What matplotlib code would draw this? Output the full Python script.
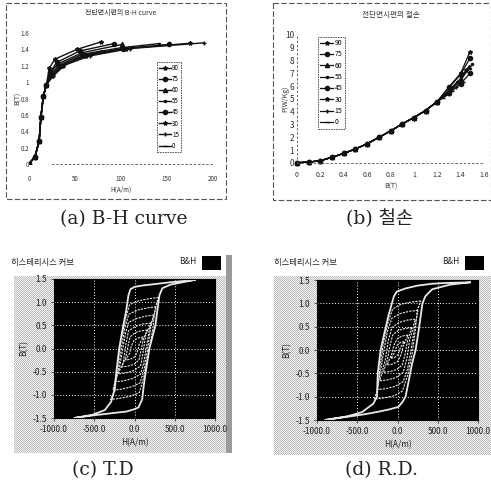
import matplotlib
matplotlib.use('Agg')
import matplotlib.pyplot as plt
import numpy as np
from matplotlib.patches import Rectangle

plt.rcParams['font.family'] = ['Noto Sans CJK KR', 'DejaVu Sans']
W, H = 491, 482

labels = ['90', '75', '60', '55', '45', '30', '15', '0']
markers = ['*', 'o', '^', '.', 'o', '*', '+', '_']

bh_low_h = [0, 6.5, 11, 13, 15.6, 19]
bh_low_b = [0, 0.09, 0.28, 0.58, 0.83, 0.97]
bh_h = [
    [22, 28, 52, 78],
    [23, 30, 55, 92],
    [23, 31, 58, 101],
    [24, 33, 58, 100, 141],
    [25, 34, 60, 102, 152],
    [25, 35, 62, 105, 175],
    [26, 37, 66, 110, 190],
    [26, 37, 52, 79],
]
bh_b = [
    [1.17, 1.28, 1.40, 1.49],
    [1.12, 1.24, 1.38, 1.47],
    [1.11, 1.22, 1.36, 1.46],
    [1.10, 1.21, 1.34, 1.42, 1.47],
    [1.09, 1.20, 1.33, 1.41, 1.46],
    [1.08, 1.20, 1.32, 1.41, 1.475],
    [1.08, 1.20, 1.32, 1.41, 1.48],
    [1.07, 1.19, 1.29, 1.38],
]
bh_xticks = [0, 50, 100, 150, 200]
bh_yticks = [0, 0.2, 0.4, 0.6, 0.8, 1, 1.2, 1.4, 1.6]

loss_low_b = [0, 0.1, 0.2, 0.3, 0.4, 0.5, 0.6, 0.7, 0.8, 0.9, 1.0, 1.1, 1.2]
loss_low_w = [0.02, 0.07, 0.18, 0.45, 0.75, 1.1, 1.5, 2.0, 2.5, 3.05, 3.55, 4.1, 4.8]
loss_b = [
    [1.3, 1.4, 1.48],
    [1.3, 1.4, 1.48],
    [1.3, 1.4, 1.47],
    [1.3, 1.4, 1.5],
    [1.3, 1.4, 1.48],
    [1.3, 1.38, 1.45],
    [1.3, 1.36, 1.42],
    [1.25, 1.3, 1.33],
]
loss_w = [
    [5.95, 7.0, 8.7],
    [5.9, 6.9, 8.2],
    [5.7, 6.6, 7.5],
    [5.6, 6.5, 7.7],
    [5.5, 6.2, 7.0],
    [5.5, 6.3, 7.3],
    [5.4, 5.9, 6.3],
    [5.1, 5.4, 5.6],
]
loss_xticks = [0, 0.2, 0.4, 0.6, 0.8, 1, 1.2, 1.4, 1.6]
loss_xlabels = ['0', '0.2', '0.4', '0.6', '0.8', '1', '1.2', '1.4', '1.6']
loss_yticks = list(range(11))

td_loops_h = [
    [750, 500, 300, 100, 0, -50, -75, -105, -150, -190, -225, -250, -290, -370, -520, -750,
     -500, -300, -100, 0, 50, 95, 115, 140, 185, 260, 290, 310, 345, 450, 750],
    [300, 200, 50, -60, -110, -170, -215, -240, -300, -200, -50, 60, 110, 170, 225, 260, 300],
    [270, 170, 40, -70, -120, -160, -205, -270, -170, -40, 70, 120, 160, 205, 270],
    [240, 140, 30, -75, -115, -150, -190, -240, -140, -30, 75, 115, 150, 190, 240],
    [205, 110, 15, -75, -105, -140, -205, -110, -15, 75, 105, 140, 205],
    [160, 80, 5, -55, -80, -110, -160, -80, -5, 55, 80, 110, 160],
    [110, 50, -5, -40, -60, -110, -50, 5, 40, 60, 110],
]
td_loops_b = [
    [1.48, 1.44, 1.40, 1.36, 1.33, 1.28, 1.15, 0.8, 0.4, 0, -0.5, -0.9, -1.15, -1.33, -1.43, -1.5,
     -1.44, -1.40, -1.36, -1.31, -1.27, -1.1, -0.8, -0.5, 0, 0.5, 0.9, 1.15, 1.3, 1.38, 1.48],
    [1.1, 1.08, 1.03, 0.95, 0.65, 0.15, -0.4, -0.9, -1.1, -1.08, -1.03, -0.95, -0.65, -0.15, 0.4, 0.9, 1.1],
    [0.9, 0.88, 0.83, 0.74, 0.45, 0.05, -0.5, -0.9, -0.88, -0.83, -0.74, -0.45, -0.05, 0.5, 0.9],
    [0.72, 0.70, 0.65, 0.56, 0.3, -0.05, -0.45, -0.72, -0.70, -0.65, -0.56, -0.3, 0.05, 0.45, 0.72],
    [0.55, 0.53, 0.48, 0.38, 0.1, -0.3, -0.55, -0.53, -0.48, -0.38, -0.1, 0.3, 0.55],
    [0.4, 0.38, 0.34, 0.25, 0.05, -0.2, -0.4, -0.38, -0.34, -0.25, -0.05, 0.2, 0.4],
    [0.25, 0.23, 0.18, 0.05, -0.1, -0.25, -0.23, -0.18, -0.05, 0.1, 0.25],
]
rd_loops_h = [
    [900, 650, 430, 250, 100, -10, -45, -110, -165, -210, -245, -255, -300, -440, -620, -900,
     -620, -420, -260, -120, 10, 60, 100, 135, 180, 225, 270, 310, 345, 430, 650, 900],
    [290, 180, 40, -60, -125, -180, -220, -245, -290, -180, -40, 60, 125, 180, 220, 245, 290],
    [255, 150, 30, -70, -125, -165, -210, -255, -150, -30, 70, 125, 165, 210, 255],
    [220, 120, 20, -70, -115, -150, -220, -120, -20, 70, 115, 150, 220],
    [175, 90, 10, -60, -95, -125, -175, -90, -10, 60, 95, 125, 175],
    [130, 60, 0, -45, -70, -130, -60, 0, 45, 70, 130],
    [85, 35, -5, -30, -45, -85, -35, 5, 30, 45, 85],
]
rd_loops_b = [
    [1.45, 1.44, 1.42, 1.38, 1.32, 1.25, 1.15, 0.75, 0.35, 0, -0.5, -1.0, -1.15, -1.33, -1.42, -1.5,
     -1.43, -1.38, -1.33, -1.28, -1.22, -1.12, -1.0, -0.7, -0.3, 0, 0.5, 1.0, 1.15, 1.3, 1.4, 1.45],
    [1.05, 1.03, 0.98, 0.88, 0.55, 0.1, -0.4, -0.85, -1.05, -1.03, -0.98, -0.88, -0.55, -0.1, 0.4, 0.85, 1.05],
    [0.85, 0.83, 0.78, 0.68, 0.4, 0.03, -0.45, -0.85, -0.83, -0.78, -0.68, -0.4, -0.03, 0.45, 0.85],
    [0.66, 0.64, 0.59, 0.48, 0.2, -0.2, -0.66, -0.64, -0.59, -0.48, -0.2, 0.2, 0.66],
    [0.48, 0.46, 0.42, 0.32, 0.08, -0.2, -0.48, -0.46, -0.42, -0.32, -0.08, 0.2, 0.48],
    [0.32, 0.30, 0.25, 0.1, -0.08, -0.32, -0.30, -0.25, -0.1, 0.08, 0.32],
    [0.18, 0.16, 0.1, -0.02, -0.08, -0.18, -0.16, -0.1, 0.02, 0.08, 0.18],
]
hyst_xticks = [-1000, -500, 0, 500, 1000]
hyst_xlabels = ['-1000.0', '-500.0', '0.0', '500.0', '1000.0']
hyst_yticks = [-1.5, -1.0, -0.5, 0.0, 0.5, 1.0, 1.5]
hyst_ylabels = ['-1.5', '-1.0', '-0.5', '0.0', '0.5', '1.0', '1.5']

fig = plt.figure(figsize=(W / 100, H / 100), dpi=100, facecolor='white')


def px_axes(x0, y0, x1, y1, **kw):
    return fig.add_axes([x0 / W, 1 - y1 / H, (x1 - x0) / W, (y1 - y0) / H], **kw)


bg = px_axes(0, 0, W, H)
bg.set_xlim(0, W)
bg.set_ylim(H, 0)
bg.axis('off')
ink = '#333333'

for (x0, y0, x1, y1) in [(6, 3, 226, 199), (273, 3, 491, 200)]:
    bg.add_patch(Rectangle((x0, y0), x1 - x0, y1 - y0, fill=False, ec='#555555', lw=0.8, ls=(0, (5, 2))))


def panel_bg(x0, y0, x1, y1):
    yy, xx = np.indices((y1 - y0, x1 - x0))
    img = np.where((xx + yy) % 2 == 0, 0.72, 0.97)
    a = px_axes(x0, y0, x1, y1)
    a.imshow(img, cmap='gray', vmin=0, vmax=1, aspect='auto', interpolation='nearest')
    a.axis('off')


panel_bg(14, 276, 226, 453)
panel_bg(274, 276, 491, 455)
bg2 = px_axes(226, 255, 232, 453)
bg2.set_facecolor('#9a9a9a')
bg2.set_xticks([])
bg2.set_yticks([])
for s in bg2.spines.values():
    s.set_visible(False)

# (a)
ax = px_axes(29, 33, 213, 164)
ax.set_xlim(0, 200)
ax.set_ylim(0, 1.6)
ax.patch.set_alpha(0)
for i, lab in enumerate(labels):
    ax.plot(bh_low_h + bh_h[i], bh_low_b + bh_b[i], color='#111111', lw=1.0,
            marker=markers[i], ms=3, label=lab)
ax.set_xticks(bh_xticks)
ax.set_yticks(bh_yticks)
ax.set_yticklabels(['0', '0.2', '0.4', '0.6', '0.8', '1', '1.2', '1.4', '1.6'])
ax.tick_params(axis='x', labelsize=4.5, length=0, pad=8, colors=ink)
ax.tick_params(axis='y', labelsize=4.5, length=0, pad=0, colors=ink)
ax.set_xlabel('H(A/m)', fontsize=4.5, color=ink, labelpad=2)
ax.set_ylabel('B(T)', fontsize=5, color=ink, labelpad=-1)
ax.set_title('전단면시편의 B-H curve', fontsize=5, color=ink, pad=13)
for k in ['top', 'right', 'left']:
    ax.spines[k].set_visible(False)
ax.spines['bottom'].set_linestyle((0, (2, 3)))
ax.spines['bottom'].set_linewidth(0.6)
ax.spines['bottom'].set_color('#555555')
ax.spines['bottom'].set_bounds(25, 200)
lg = ax.legend(loc='upper left', bbox_to_anchor=((157 - 29) / 184, 1 - (62 - 33) / 131), fontsize=4.5,
               borderaxespad=0, labelspacing=0.5, handlelength=1.9, handletextpad=0.2,
               borderpad=0.3, fancybox=False, edgecolor='#444444', framealpha=1)
lg.get_frame().set_linestyle((0, (2, 1)))
lg.get_frame().set_linewidth(0.6)

# (b)
ax = px_axes(297, 35, 484, 163)
ax.set_xlim(0, 1.6)
ax.set_ylim(0, 10)
ax.patch.set_alpha(0)
for i, lab in enumerate(labels):
    ax.plot(loss_low_b + loss_b[i], loss_low_w + loss_w[i], color='#111111', lw=0.9,
            marker=markers[i], ms=3, label=lab, clip_on=False)
ax.set_xticks(loss_xticks)
ax.set_xticklabels(loss_xlabels)
ax.set_yticks(loss_yticks)
ax.tick_params(axis='x', labelsize=5, length=0, pad=6, colors=ink)
ax.tick_params(axis='y', labelsize=6, length=0, pad=2, colors=ink)
ax.set_xlabel('B(T)', fontsize=5, color=ink, labelpad=2)
ax.set_ylabel('P(W/Kg)', fontsize=5, color=ink, labelpad=-3)
ax.set_title('전단면시편의 철손', fontsize=5.5, color=ink, pad=13)
for k in ['top', 'right']:
    ax.spines[k].set_visible(False)
for k in ['left', 'bottom']:
    ax.spines[k].set_linestyle((0, (2, 3)))
    ax.spines[k].set_linewidth(0.6)
    ax.spines[k].set_color('#555555')
lg = ax.legend(loc='upper left', bbox_to_anchor=((318 - 297) / 187, 1 - (37 - 35) / 128), fontsize=5,
               borderaxespad=0, labelspacing=0.48, handlelength=1.9, handletextpad=0.2,
               borderpad=0.3, fancybox=False, edgecolor='#444444', framealpha=1)
lg.get_frame().set_linestyle((0, (2, 1)))
lg.get_frame().set_linewidth(0.6)


def hyst(box, loops_h, loops_b, title_xy, bh_xy, swatch):
    a = px_axes(*box, facecolor='black')
    a.set_xlim(-1000, 1000)
    a.set_ylim(-1.5, 1.5)
    a.set_xticks(hyst_xticks)
    a.set_xticklabels(hyst_xlabels)
    a.set_yticks(hyst_yticks)
    a.set_yticklabels(hyst_ylabels)
    a.tick_params(labelsize=6, length=2, width=0.5, pad=3, colors='#222222')
    a.grid(True, color='white', lw=0.7, ls=(0, (1, 2)))
    a.set_axisbelow(True)
    for i, (hh, bb) in enumerate(zip(loops_h, loops_b)):
        a.plot(hh, bb, color='#e8e8e8', lw=1.3 if i == 0 else 0.8, ls='-' if i == 0 else (0, (2, 1)))
    a.set_xlabel('H(A/m)', fontsize=6, color='#222222', labelpad=3)
    a.set_ylabel('B(T)', fontsize=6, color='#222222', labelpad=3)
    bg3.text(*title_xy, '히스테리시스 커브', fontsize=6, color='#222222', va='center')
    bg3.text(*bh_xy, 'B&H', fontsize=6, color='#222222', va='center')
    bg3.add_patch(Rectangle((swatch[0], swatch[1]), 19, 14, fc='black', ec='none'))


bg3 = px_axes(0, 0, W, H)
bg3.set_xlim(0, W)
bg3.set_ylim(H, 0)
bg3.axis('off')
bg3.patch.set_alpha(0)

hyst((54, 279, 215, 418), td_loops_h, td_loops_b, (11, 262), (179, 261), (202, 256))
hyst((317, 280, 478, 420), rd_loops_h, rd_loops_b, (274, 263), (442, 262), (465, 256))

cap = ['DejaVu Serif', 'Noto Sans CJK KR']
bg3.text(124, 219, '(a) B-H curve', fontsize=13.5, family=cap, color='#222222', ha='center', va='center')
bg3.text(380, 219, '(b) 철손', fontsize=13.5, family=cap, color='#222222', ha='center', va='center')
bg3.text(103, 470, '(c) T.D', fontsize=13.5, family=cap, color='#222222', ha='center', va='center')
bg3.text(382, 470, '(d) R.D.', fontsize=13.5, family=cap, color='#222222', ha='center', va='center')

fig.savefig('out.png', dpi=100)
